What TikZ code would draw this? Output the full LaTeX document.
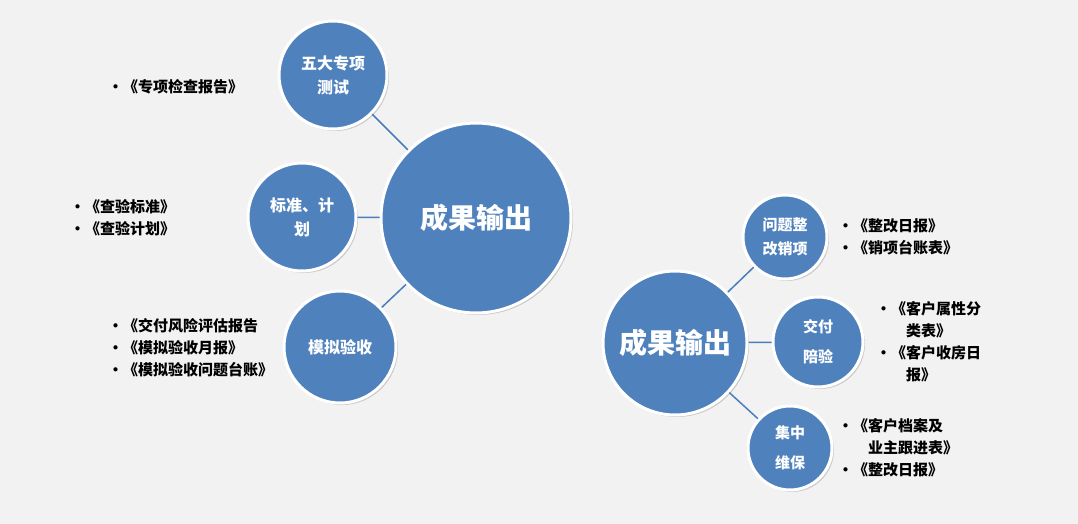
\documentclass[tikz,border=0pt]{standalone}
\usepackage{fontspec}
\setmainfont{Noto Sans CJK SC}
\usetikzlibrary{shadows}
\definecolor{bg}{HTML}{F2F2F2}
\definecolor{cb}{HTML}{4F81BD}
\definecolor{ln}{HTML}{4A7EBB}
\tikzset{
 bub/.style={circle,fill=cb,draw=white,line width=3pt,text=white,font=\bfseries\fontsize{16}{24}\selectfont,align=center,inner sep=0pt,drop shadow={opacity=0.35,shadow xshift=2pt,shadow yshift=-2pt}},
 big/.style={bub,font=\bfseries\fontsize{28}{32}\selectfont},
 con/.style={draw=ln,line width=1.5pt},
 lst/.style={font=\bfseries\fontsize{15}{22}\selectfont,align=left,inner sep=0pt,anchor=west}
}
\begin{document}
\begin{tikzpicture}[x=1pt,y=-1pt]
\fill[bg] (0,0) rectangle (1078,524);
\useasboundingbox (0,0) rectangle (1078,524);
\node[big,minimum size=190] (L) at (476,218) {成果输出};
\node[bub,minimum size=108] (a) at (333,75) {五大专项\\测试};
\node[bub,minimum size=108] (b) at (302,217) {标准、计\\划};
\node[bub,minimum size=112] (c) at (340,347) {模拟验收};
\draw[con] (a) -- (L);
\draw[con] (b) -- (L);
\draw[con] (c) -- (L);
\node[big,minimum size=144] (R) at (675,343) {成果输出};
\node[bub,minimum size=84,font=\bfseries\fontsize{15}{24}\selectfont] (d) at (785,237) {问题整\\改销项};
\node[bub,minimum size=90,font=\bfseries\fontsize{15}{30}\selectfont] (e) at (818,342) {交付\\陪验};
\node[bub,minimum size=84,font=\bfseries\fontsize{15}{30}\selectfont] (f) at (790,448) {集中\\维保};
\draw[con] (d) -- (R);
\draw[con] (e) -- (R);
\draw[con] (f) -- (R);
\node[lst] (t1) at (108,87) {•《专项检查报告》};
\node[lst] (t2) at (70,218) {•《查验标准》\\•《查验计划》};
\node[lst] (t3) at (108,348) {•《交付风险评估报告\\•《模拟验收月报》\\•《模拟验收问题台账》};
\node[lst] (t4) at (838,237) {•《整改日报》\\•《销项台账表》};
\node[lst] (t5) at (876,342) {•《客户属性分\\\phantom{•《}类表》\\•《客户收房日\\\phantom{•《}报》};
\node[lst] (t6) at (838,448) {•《客户档案及\\\phantom{•《}业主跟进表》\\•《整改日报》};
\end{tikzpicture}
\end{document}
